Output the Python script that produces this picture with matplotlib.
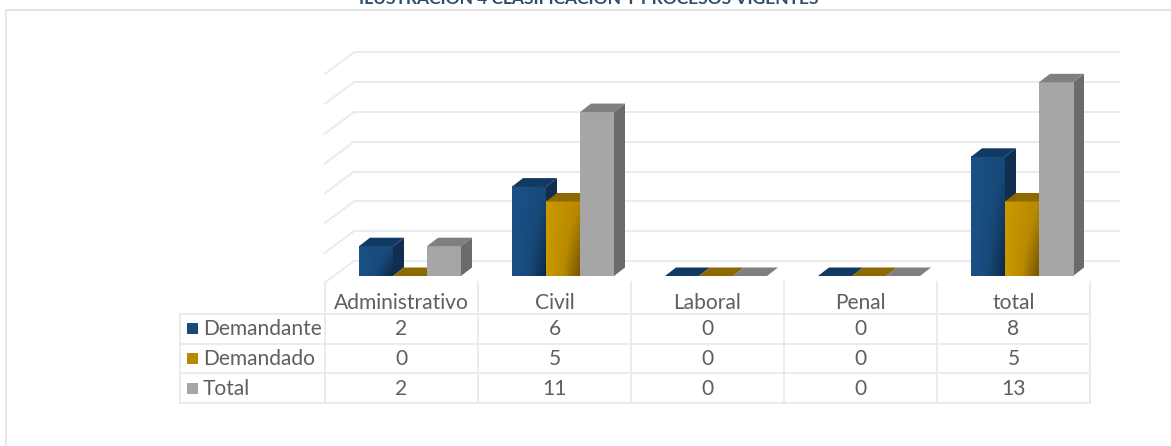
import numpy as np
import matplotlib
matplotlib.use('Agg')
import matplotlib.pyplot as plt
from matplotlib.colors import LinearSegmentedColormap
from matplotlib.patches import Polygon

categories = ['Administrativo', 'Civil', 'Laboral', 'Penal', 'total']
series_names = ['Demandante', 'Demandado', 'Total']
demandante = [2, 6, 0, 0, 8]
demandado = [0, 5, 0, 0, 5]
total = [2, 11, 0, 0, 13]
grid_values = [0, 2, 4, 6, 8, 10, 12, 14]
title = 'ILUSTRACIÓN 4 CLASIFICACIÓN Y PROCESOS VIGENTES'

W, H = 1171, 446
plt.rcParams['font.family'] = ['Lato', 'DejaVu Sans']
txt = '#5f5f5f'
line = '#ebebeb'

# pixel layout of the picture
cat_w = 153.0
left = 325.0
base = 276.0
unit = 14.9
bar_w = 34.0
dx, dy = 11.0, 8.5       # bar depth
wall_dx, wall_dy = 29.0, 21.5   # floor depth

fig = plt.figure(figsize=(W / 100, H / 100), dpi=100)
# one axes over the whole figure: x in categories, y in values
ax = fig.add_axes([0, 0, 1, 1])
ax.set_xlim(-left / cat_w, (W - left) / cat_w)
ax.set_ylim(-(H - base) / unit, base / unit)
ax.axis('off')

px = 1 / cat_w
py = 1 / unit

# frame of the pasted picture
ax.plot([5.5 * px - left * px] * 2, [(base - 10) * py, -(H - base) * py], color='#e6e6e6', lw=1.3)
ax.plot([5.5 * px - left * px, (W - left) * px], [(base - 10) * py] * 2, color='#e0e0e0', lw=1.3)

# back wall
x1 = (1119 - left) * px
for v in grid_values:
    yb = v + 15 * py
    ax.plot([wall_dx * px, x1], [yb, yb], color=line, lw=1.4, zorder=1)
    ax.plot([0, wall_dx * px], [yb - wall_dy * py, yb], color=line, lw=1.4, zorder=1)

blue = LinearSegmentedColormap.from_list('b', ['#1a5186', '#174a7a', '#0c2947'])
gold = LinearSegmentedColormap.from_list('g', ['#cb9800', '#b98a00', '#755400'])
gray = LinearSegmentedColormap.from_list('k', ['#a6a6a6', '#a6a6a6'])
fills = [blue, gold, gray]
sides = ['#0f2e50', '#7a5800', '#6b6b6b']
tops = ['#113a63', '#8c6a00', '#7f7f7f']
key_cols = ['#174a7a', '#b98a00', '#a6a6a6']

shift = 8.5 * px
w = bar_w * px
ddx = dx * px
ddy = dy * py
yy, xx = np.mgrid[0:1:40j, 0:1:40j]
grad = xx * (0.5 + 0.5 * yy)

for s, vals in enumerate([demandante, demandado, total]):
    for i, v in enumerate(vals):
        xl = i + 0.5 + shift + (s - 1.5) * w
        xr = xl + w
        if v > 0:
            ax.add_patch(Polygon([(xr, 0), (xr + ddx, ddy), (xr + ddx, v + ddy), (xr, v)],
                                 fc=sides[s], ec='none', zorder=3 + s))
            ax.imshow(grad, cmap=fills[s], extent=[xl, xr, 0, v], origin='upper',
                      aspect='auto', vmin=0, vmax=1, zorder=3 + s, interpolation='bilinear')
        ax.add_patch(Polygon([(xl, v), (xr, v), (xr + ddx, v + ddy), (xl + ddx, v + ddy)],
                             fc=tops[s], ec='none', zorder=3 + s))

ax.set_xlim(-left / cat_w, (W - left) / cat_w)
ax.set_ylim(-(H - base) / unit, base / unit)

# data table
n = len(categories)
t_left = (180 - left) * px
row_y = [(base - y) * py for y in [314, 343.5, 373, 403]]
top_y = (base - 282) * py
for y in row_y:
    ax.plot([t_left, n], [y, y], color=line, lw=1.4, zorder=1)
for i in range(n + 1):
    ax.plot([i, i], [top_y, row_y[-1]], color=line, lw=1.4, zorder=1)
ax.plot([t_left, t_left], [row_y[0], row_y[-1]], color=line, lw=1.4, zorder=1)

fs = 15.1
for i, c in enumerate(categories):
    ax.text(i + 0.5, (base - 303) * py, c, ha='center', va='center', fontsize=fs, color=txt)
row_mid = [(row_y[k] + row_y[k + 1]) / 2 for k in range(3)]
for r, vals in enumerate([demandante, demandado, total]):
    ax.text((203 - left) * px, row_mid[r] - 0.05, series_names[r], ha='left', va='center', fontsize=fs, color=txt)
    ax.add_patch(Polygon([((187 - left) * px, row_mid[r] - 5.5 * py), ((198 - left) * px, row_mid[r] - 5.5 * py),
                          ((198 - left) * px, row_mid[r] + 5.5 * py), ((187 - left) * px, row_mid[r] + 5.5 * py)],
                         fc=key_cols[r], ec='none', zorder=3))
    for i, v in enumerate(vals):
        ax.text(i + 0.5, row_mid[r] - 0.05, str(v), ha='center', va='center', fontsize=fs, color=txt)

# title cut off by the top of the picture
ax.text((588.5 - left) * px, (base - 4) * py, title, ha='center', va='baseline',
        fontsize=12.5, fontweight='bold', color='#2f4b6e')

fig.savefig('out.png', dpi=100)
